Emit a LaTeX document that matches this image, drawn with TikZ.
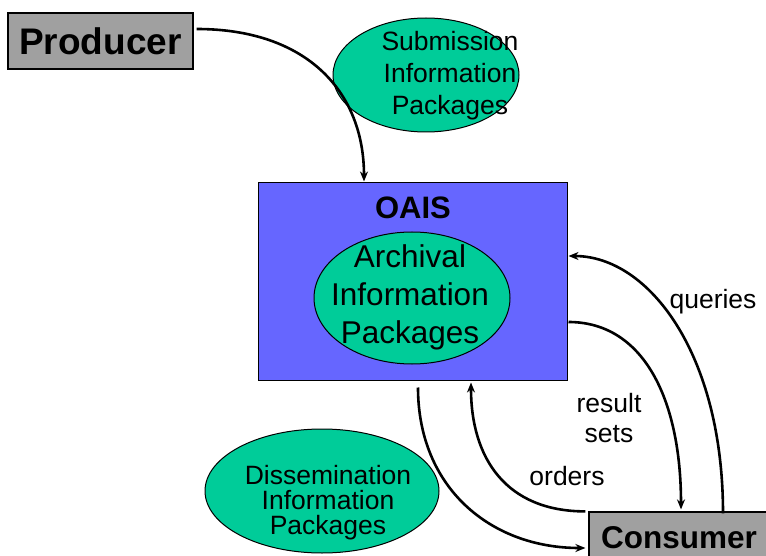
\documentclass[tikz,border=0pt]{standalone}
\usepackage{fontspec}
\setmainfont{Liberation Sans}
\usetikzlibrary{arrows.meta,shapes.geometric}
\definecolor{boxgray}{HTML}{A0A0A0}
\definecolor{pkggreen}{HTML}{00CC99}
\definecolor{oaisblue}{HTML}{6666FF}
\tikzset{
  actor/.style={draw=black, line width=1.2pt, fill=boxgray, inner sep=0pt, font=\bfseries},
  pkg/.style={ellipse, draw=black, line width=1pt, fill=pkggreen, inner sep=0pt},
  pkgtext/.style={inner sep=0pt, align=center},
  flow/.style={line width=2.6pt, -{Stealth[length=10pt,width=8pt]}},
  lbl/.style={inner sep=0pt, font=\fontsize{26.5}{26.5}\selectfont}
}
\begin{document}
\begin{tikzpicture}[x=1pt,y=-1pt]
\useasboundingbox (0,0) rectangle (766,556);
% Producer
\node[actor, minimum width=185pt, minimum height=56pt, font=\bfseries\fontsize{37}{37}\selectfont] (producer) at (100.5,41) {Producer};
% Submission IP
\node[pkg, minimum width=186pt, minimum height=114pt] (sip) at (426,75) {};
\node[pkgtext, font=\fontsize{26.5}{32}\selectfont] (siplbl) at (450,76) {Submission\\Information\\Packages};
% OAIS
\node[draw=black, line width=1pt, fill=oaisblue, minimum width=309pt, minimum height=197pt, inner sep=0pt] (oais) at (412.5,281.5) {};
\node[inner sep=0pt, font=\bfseries\fontsize{31}{31}\selectfont] (oaislbl) at (413,208) {OAIS};
\node[pkg, minimum width=196pt, minimum height=132pt] (aip) at (412,298) {};
\node[pkgtext, font=\fontsize{31.5}{38}\selectfont] (aiplbl) at (410,297) {Archival\\Information\\Packages};
% Consumer
\node[actor, minimum width=180pt, minimum height=52pt, font=\bfseries\fontsize{31.5}{31.5}\selectfont] (consumer) at (679,538) {Consumer};
% Dissemination IP
\node[pkg, minimum width=234pt, minimum height=124pt] (dip) at (322,491) {};
\node[pkgtext, font=\fontsize{26.5}{25}\selectfont] (diplbl) at (328,503) {Dissemination\\Information\\Packages};
% flows
\draw[flow] ([xshift=3pt,yshift=12pt]producer.east) .. controls +(110,0) and +(0,-90) .. ([xshift=-48.5pt,yshift=1pt]oais.north);
\draw[flow] ([xshift=44pt,yshift=-2pt]consumer.north) .. controls +(0,-160) and +(80,0) .. ([xshift=1pt,yshift=25.5pt]oais.east);
\draw[flow] ([xshift=1pt,yshift=-40.5pt]oais.east) .. controls +(75,0) and +(0,-110) .. ([xshift=2pt,yshift=2pt]consumer.north);
\draw[flow] ([xshift=-3pt]consumer.north west) .. controls +(-80,0) and +(0,75) .. ([xshift=58.5pt,yshift=-2pt]oais.south);
\draw[flow] ([xshift=5.5pt,yshift=-7pt]oais.south) .. controls +(0,100) and +(-95,0) .. ([xshift=-3pt,yshift=-10pt]consumer.west);
% labels
\node[lbl] (qlbl) at (713,302) {queries};
\node[lbl] (rlbl) at (609,403) {result};
\node[lbl] (slbl) at (609,434) {sets};
\node[lbl] (olbl) at (567,476) {orders};
\end{tikzpicture}
\end{document}
